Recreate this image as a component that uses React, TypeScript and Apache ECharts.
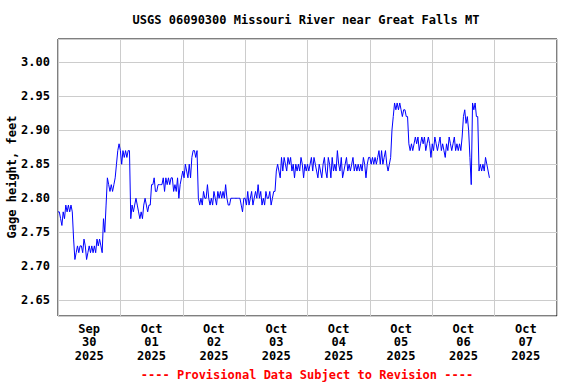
import React, { useEffect, useRef } from "react";
import * as echarts from "echarts";

// Gage height, feet — 30-minute readings starting Sep 30 2025 00:00
const sep30 = [
  2.78, 2.78, 2.77, 2.76, 2.78, 2.77, 2.79, 2.78, 2.79, 2.78, 2.79, 2.78,
  2.74, 2.71, 2.72, 2.73, 2.72, 2.73, 2.73, 2.72, 2.74, 2.73, 2.71, 2.72,
  2.73, 2.72, 2.73, 2.72, 2.73, 2.72, 2.74, 2.73, 2.74, 2.73, 2.72, 2.77,
  2.75, 2.79, 2.83, 2.82, 2.81, 2.82, 2.81, 2.82, 2.83, 2.85, 2.87, 2.88,
];
const oct01 = [
  2.87, 2.85, 2.87, 2.86, 2.87, 2.86, 2.87, 2.87, 2.77, 2.79, 2.78, 2.79,
  2.80, 2.79, 2.78, 2.77, 2.78, 2.77, 2.79, 2.80, 2.79, 2.78, 2.79, 2.79,
  2.82, 2.82, 2.83, 2.81, 2.81, 2.82, 2.82, 2.82, 2.82, 2.83, 2.81, 2.83,
  2.82, 2.83, 2.82, 2.83, 2.83, 2.81, 2.82, 2.81, 2.83, 2.80, 2.82, 2.83,
];
const oct02 = [
  2.84, 2.83, 2.85, 2.84, 2.83, 2.85, 2.83, 2.86, 2.87, 2.87, 2.86, 2.87,
  2.80, 2.79, 2.80, 2.79, 2.81, 2.80, 2.80, 2.82, 2.80, 2.79, 2.80, 2.79,
  2.81, 2.80, 2.79, 2.81, 2.80, 2.81, 2.80, 2.81, 2.80, 2.82, 2.80, 2.79,
  2.79, 2.80, 2.80, 2.80, 2.80, 2.80, 2.80, 2.80, 2.80, 2.79, 2.78, 2.80,
];
const oct03 = [
  2.80, 2.79, 2.81, 2.79, 2.80, 2.81, 2.79, 2.80, 2.81, 2.80, 2.82, 2.80,
  2.81, 2.79, 2.80, 2.79, 2.81, 2.80, 2.80, 2.81, 2.79, 2.80, 2.81, 2.81,
  2.84, 2.85, 2.84, 2.83, 2.86, 2.84, 2.86, 2.85, 2.84, 2.86, 2.85, 2.86,
  2.84, 2.85, 2.83, 2.85, 2.84, 2.85, 2.84, 2.86, 2.85, 2.83, 2.85, 2.84,
];
const oct04 = [
  2.85, 2.84, 2.85, 2.86, 2.84, 2.86, 2.85, 2.84, 2.83, 2.85, 2.84, 2.83,
  2.85, 2.86, 2.84, 2.83, 2.86, 2.85, 2.83, 2.86, 2.84, 2.85, 2.84, 2.87,
  2.85, 2.84, 2.86, 2.83, 2.84, 2.85, 2.86, 2.84, 2.85, 2.84, 2.85, 2.86,
  2.84, 2.85, 2.84, 2.85, 2.84, 2.85, 2.84, 2.86, 2.85, 2.83, 2.85, 2.86,
];
const oct05 = [
  2.86, 2.85, 2.86, 2.85, 2.86, 2.85, 2.86, 2.87, 2.85, 2.87, 2.85, 2.86,
  2.87, 2.85, 2.84, 2.85, 2.86, 2.90, 2.92, 2.94, 2.93, 2.94, 2.93, 2.94,
  2.93, 2.92, 2.93, 2.93, 2.92, 2.92, 2.88, 2.87, 2.88, 2.87, 2.88, 2.89,
  2.88, 2.89, 2.87, 2.88, 2.89, 2.88, 2.89, 2.87, 2.88, 2.89, 2.88, 2.86,
];
const oct06 = [
  2.88, 2.87, 2.89, 2.88, 2.87, 2.88, 2.89, 2.87, 2.88, 2.87, 2.86, 2.88,
  2.87, 2.89, 2.88, 2.87, 2.88, 2.89, 2.87, 2.88, 2.87, 2.88, 2.87, 2.89,
  2.92, 2.93, 2.91, 2.92, 2.90, 2.86, 2.82, 2.94, 2.93, 2.94, 2.92, 2.92,
  2.84, 2.85, 2.84, 2.85, 2.84, 2.86, 2.85, 2.84, 2.83,
];

const dayLabels = [
  "Sep\n30\n2025",
  "Oct\n01\n2025",
  "Oct\n02\n2025",
  "Oct\n03\n2025",
  "Oct\n04\n2025",
  "Oct\n05\n2025",
  "Oct\n06\n2025",
  "Oct\n07\n2025",
];

const titleText = "USGS 06090300 Missouri River near Great Falls MT";
const footerText = "---- Provisional Data Subject to Revision ----";
const yName = "Gage height, feet";

const FONT = "'DejaVu Sans Mono', 'Liberation Mono', monospace";

export default function App() {
  const ref = useRef<HTMLDivElement>(null);

  useEffect(() => {
    document.body.style.margin = "0";
    if (!ref.current) return;
    const chart = echarts.init(ref.current, null, { renderer: "svg" });

    const all = [...sep30, ...oct01, ...oct02, ...oct03, ...oct04, ...oct05, ...oct06];
    const data = all.map((v, i) => [i * 0.5, v]);

    chart.setOption({
      animation: false,
      backgroundColor: "#ffffff",
      grid: {
        left: 58,
        right: 19,
        top: 39,
        bottom: 68,
        show: true,
        borderColor: "#000000",
        borderWidth: 1,
        backgroundColor: "transparent",
        containLabel: false,
        outerBoundsMode: "none",
      },
      graphic: [
        {
          type: "text",
          x: 306,
          y: 20,
          style: {
            text: titleText,
            fill: "#000000",
            font: `bold 12px ${FONT}`,
            textAlign: "center",
            textVerticalAlign: "middle",
          },
        },
        {
          type: "text",
          x: 12,
          y: 177,
          rotation: Math.PI / 2,
          style: {
            text: yName,
            fill: "#000000",
            font: `bold 12px ${FONT}`,
            textAlign: "center",
            textVerticalAlign: "middle",
          },
        },
        {
          type: "text",
          x: 307,
          y: 375,
          style: {
            text: footerText,
            fill: "#ff0000",
            font: `bold 12px ${FONT}`,
            textAlign: "center",
            textVerticalAlign: "middle",
          },
        },
      ],
      xAxis: [
        {
          type: "value",
          min: 0,
          max: 192,
          interval: 24,
          axisLine: { show: false },
          axisTick: { show: false },
          axisLabel: { show: false },
          splitLine: { show: true, lineStyle: { color: "#cccccc", width: 1 } },
        },
        {
          type: "value",
          position: "bottom",
          min: 0,
          max: 192,
          interval: 12,
          axisLine: { show: false },
          axisTick: { show: false },
          splitLine: { show: false },
          axisLabel: {
            show: true,
            margin: 6,
            color: "#000000",
            fontFamily: FONT,
            fontWeight: "bold",
            fontSize: 12,
            lineHeight: 13.5,
            formatter: (v: number) =>
              Math.round(v) % 24 === 12 ? dayLabels[(Math.round(v) - 12) / 24] : "",
          },
        },
      ],
      yAxis: {
        type: "value",
        min: 2.627,
        max: 3.034,
        splitNumber: 8,
        minInterval: 0.05,
        maxInterval: 0.05,
        axisLine: { show: false },
        axisTick: { show: false },
        splitLine: { show: true, lineStyle: { color: "#cccccc", width: 1 } },
        axisLabel: {
          margin: 8,
          color: "#000000",
          fontFamily: FONT,
          fontWeight: "bold",
          fontSize: 12,
          formatter: (v: number) =>
            Math.abs(v * 20 - Math.round(v * 20)) < 1e-6 ? v.toFixed(2) : "",
        },
      },
      series: [
        {
          type: "line",
          xAxisIndex: 0,
          data,
          showSymbol: false,
          symbol: "none",
          lineStyle: { color: "#0000ff", width: 1 },
          itemStyle: { color: "#0000ff" },
        },
      ],
    });

    return () => chart.dispose();
  }, []);

  return <div ref={ref} style={{ width: 576, height: 384 }} />;
}
